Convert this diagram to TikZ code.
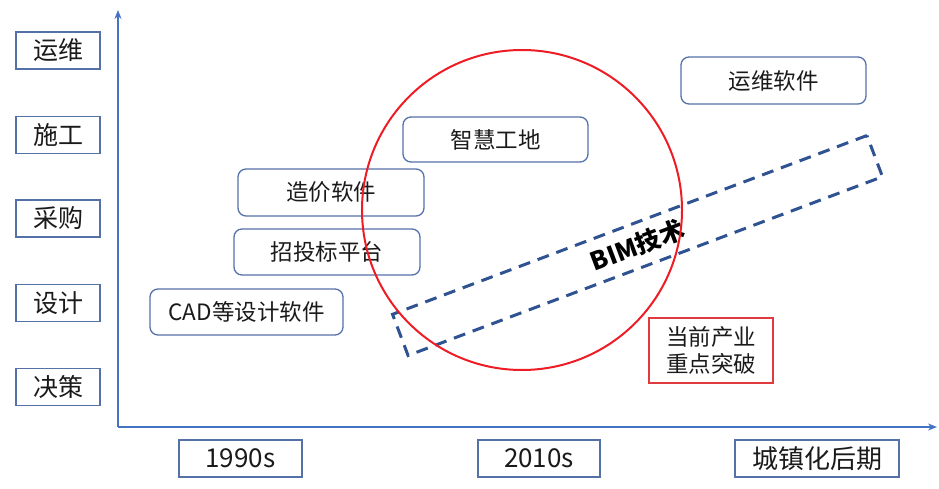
\documentclass[tikz,border=0pt]{standalone}
\usepackage{fontspec}
\setmainfont{Noto Sans CJK SC}
\usetikzlibrary{arrows.meta}
\definecolor{axisblue}{HTML}{4472C4}
\definecolor{boxblue}{HTML}{5472A8}
\definecolor{dashblue}{HTML}{2F5291}
\definecolor{circred}{HTML}{EE1C25}
\definecolor{boxred}{HTML}{E0393E}
\definecolor{txt}{HTML}{1A1A1A}
\tikzset{
  axisline/.style={draw=axisblue, line width=1.6pt},
  catbox/.style={draw=boxblue, line width=1.3pt, inner sep=0pt, text=txt,
    minimum width=84pt, minimum height=37pt, font=\fontsize{25}{29}\selectfont},
  timebox/.style={draw=boxblue, line width=1.3pt, inner sep=0pt, text=txt,
    minimum height=37pt, font=\fontsize{26}{30}\selectfont},
  toolbox/.style={draw=boxblue, line width=1.3pt, rounded corners=8pt, inner sep=0pt, text=txt,
    font=\fontsize{22.5}{26}\selectfont},
  bimbox/.style={draw=dashblue, line width=3pt, dash pattern=on 12pt off 8pt,
    minimum width=507pt, minimum height=44pt, inner sep=0pt, rotate=20.65,
    text=black, font=\fontsize{25}{29}\selectfont\bfseries},
  focuscircle/.style={draw=circred, line width=2pt, circle, minimum size=320pt, inner sep=0pt},
  notebox/.style={draw=boxred, line width=1.3pt, inner sep=0pt, text=txt, align=center,
    minimum width=124pt, minimum height=65pt, font=\fontsize{22.5}{27}\selectfont}
}
\begin{document}
\begin{tikzpicture}[x=1pt,y=-1pt]
\useasboundingbox (0,0) rectangle (939,489);
% axes
\coordinate (O) at (118,427);
\coordinate (ytop) at (118,10);
\coordinate (xend) at (937,427);
\draw[axisline, -{Stealth[length=9pt,width=7pt]}] (O) -- (ytop);
\draw[axisline, -{Stealth[length=9pt,width=7pt]}] (O) -- (xend);
% stages
\node[catbox] (yw) at (58,50.5) {运维};
\node[catbox] (sg) at (58,135) {施工};
\node[catbox] (cg) at (58,218.5) {采购};
\node[catbox] (sj) at (58,303) {设计};
\node[catbox] (jc) at (58,387) {决策};
% time
\node[timebox, minimum width=123pt] (t1) at (240.5,458.5) {1990s};
\node[timebox, minimum width=122pt] (t2) at (539,458.5) {2010s};
\node[timebox, minimum width=164pt] (t3) at (817,458.5) {城镇化后期};
% tools
\node[toolbox, minimum width=186pt, minimum height=47pt] (zj) at (331,192.5) {造价软件};
\node[toolbox, minimum width=186pt, minimum height=46pt] (zt) at (327,252) {招投标平台};
\node[toolbox, minimum width=193pt, minimum height=46pt] (cad) at (246.5,312) {CAD等设计软件};
\node[toolbox, minimum width=185pt, minimum height=45pt] (zh) at (495.5,139.5) {智慧工地};
\node[toolbox, minimum width=185pt, minimum height=47pt] (ywrj) at (773.5,80.5) {运维软件};
% BIM band
\node[bimbox] (bim) at (637.5,245.5) {BIM技术};
% focus circle
\node[focuscircle] (focus) at (522,210) {};
% note
\node[notebox] (note) at (711,350.5) {当前产业\\重点突破};
\end{tikzpicture}
\end{document}
